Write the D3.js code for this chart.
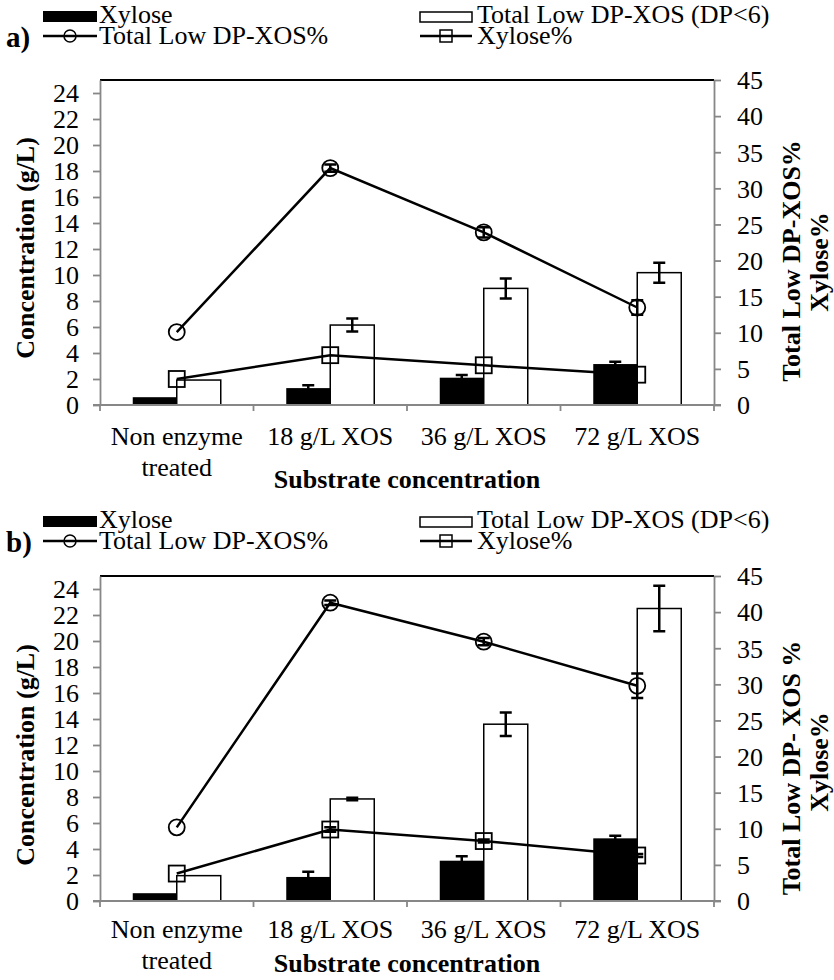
<!DOCTYPE html>
<html>
<head>
<meta charset="utf-8">
<script src="https://cdn.jsdelivr.net/npm/d3@7"></script>
<style>
  body { margin: 0; background: #fff; }
  svg text { font-family: "Liberation Serif", "Times New Roman", serif; fill: #000; }
</style>
</head>
<body>
<svg id="chart" width="834" height="980"></svg>
<script>
// categories + tick labels
var categories = ["Non enzyme treated", "18 g/L XOS", "36 g/L XOS", "72 g/L XOS"];
var categoryLines = [["Non enzyme", "treated"], ["18 g/L XOS"], ["36 g/L XOS"], ["72 g/L XOS"]];
var leftTicks = [0, 2, 4, 6, 8, 10, 12, 14, 16, 18, 20, 22, 24];
var rightTicks = [0, 5, 10, 15, 20, 25, 30, 35, 40, 45];

// panel a) values
var xyloseA = [0.6, 1.3, 2.1, 3.15];
var xyloseErrA = [0, 0.22, 0.2, 0.18];
var xosA = [1.92, 6.15, 8.97, 10.18];
var xosErrA = [0, 0.5, 0.77, 0.77];
var xosPctA = [10.1, 32.8, 23.9, 13.5];
var xosPctErrA = [0, 0.5, 0.7, 1.0];
var xylPctA = [3.6, 6.9, 5.5, 4.2];
var xylPctErrA = [0, 0, 0, 0];

// panel b)
var xyloseB = [0.6, 1.85, 3.1, 4.82];
var xyloseErrB = [0, 0.4, 0.35, 0.2];
var xosB = [1.95, 7.85, 13.6, 22.5];
var xosErrB = [0, 0.1, 0.9, 1.75];
var xosPctB = [10.2, 41.3, 35.9, 29.8];
var xosPctErrB = [0, 0.3, 0.5, 1.7];
var xylPctB = [3.8, 9.9, 8.3, 6.3];
var xylPctErrB = [0, 0.3, 0.2, 0.2];

var svg = d3.select("#chart");
var axisGrey = "#878787";

function drawPanel(p) {
    var g = svg.append("g").attr("transform", "translate(0," + p.dy + ")");

    var x = d3.scaleBand().domain(categories).range([100, 714]).padding(0);
    var yL = d3.scaleLinear().domain([0, 25]).range([405, 80]);
    var yR = d3.scaleLinear().domain([0, 45]).range([405, 80]);
    var bw = 44;
    var cx = function (i) { return x(categories[i]) + x.bandwidth() / 2; };

    // top border line
    g.append("line").attr("x1", 100).attr("x2", 714).attr("y1", 80).attr("y2", 80)
        .attr("stroke", "#000").attr("stroke-width", 1.8);

    // bars
    g.selectAll(".xylBar").data(p.xylose).enter().append("rect")
        .attr("x", function (d, i) { return cx(i) - bw; })
        .attr("y", function (d) { return yL(d); })
        .attr("width", bw)
        .attr("height", function (d) { return yL(0) - yL(d); })
        .attr("fill", "#000");
    g.selectAll(".xosBar").data(p.xos).enter().append("rect")
        .attr("x", function (d, i) { return cx(i); })
        .attr("y", function (d) { return yL(d); })
        .attr("width", bw)
        .attr("height", function (d) { return yL(0) - yL(d); })
        .attr("fill", "#fff").attr("stroke", "#000").attr("stroke-width", 1.5);

    // error bars helper
    function errBars(vals, errs, scale, xoff) {
        vals.forEach(function (v, i) {
            if (!errs[i]) return;
            var xx = cx(i) + xoff, y1 = scale(v + errs[i]), y2 = scale(v - errs[i]);
            g.append("path")
                .attr("d", "M" + xx + "," + y1 + "V" + y2 + "M" + (xx - 6) + "," + y1 + "H" + (xx + 6) + "M" + (xx - 6) + "," + y2 + "H" + (xx + 6))
                .attr("stroke", "#000").attr("stroke-width", 2.5).attr("fill", "none");
        });
    }

    // lines
    var line = d3.line().x(function (d, i) { return cx(i); });
    g.append("path").datum(p.xosPct)
        .attr("d", line.y(function (d) { return yR(d); }))
        .attr("fill", "none").attr("stroke", "#000").attr("stroke-width", 2.5);
    g.append("path").datum(p.xylPct)
        .attr("d", line.y(function (d) { return yR(d); }))
        .attr("fill", "none").attr("stroke", "#000").attr("stroke-width", 2.5);

    g.selectAll(".circ").data(p.xosPct).enter().append("circle")
        .attr("cx", function (d, i) { return cx(i); })
        .attr("cy", function (d) { return yR(d); })
        .attr("r", 8).attr("fill", "none").attr("stroke", "#000").attr("stroke-width", 1.8);
    g.selectAll(".sq").data(p.xylPct).enter().append("rect")
        .attr("x", function (d, i) { return cx(i) - 8; })
        .attr("y", function (d) { return yR(d) - 8; })
        .attr("width", 16).attr("height", 16)
        .attr("fill", "none").attr("stroke", "#000").attr("stroke-width", 1.8);

    errBars(p.xylose, p.xyloseErr, yL, -bw / 2);
    errBars(p.xos, p.xosErr, yL, bw / 2);
    errBars(p.xosPct, p.xosPctErr, yR, 0);
    errBars(p.xylPct, p.xylPctErr, yR, 0);

    // axes
    var la = g.append("g").attr("transform", "translate(100,0)")
        .call(d3.axisLeft(yL).tickValues(leftTicks).tickSize(7).tickPadding(14).tickSizeOuter(0));
    var ra = g.append("g").attr("transform", "translate(714,0)")
        .call(d3.axisRight(yR).tickValues(rightTicks).tickSize(7).tickPadding(16).tickSizeOuter(0));
    [la, ra].forEach(function (a) {
        a.select(".domain").attr("stroke", axisGrey).attr("stroke-width", 1.8);
        a.selectAll(".tick line").attr("stroke", axisGrey).attr("stroke-width", 1.8);
        a.selectAll(".tick text").style("font-size", "26px").attr("dy", "0.34em")
            .style("font-family", '"Liberation Serif", "Times New Roman", serif');
    });

    // bottom axis
    g.append("line").attr("x1", 93).attr("x2", 721).attr("y1", 405).attr("y2", 405)
        .attr("stroke", axisGrey).attr("stroke-width", 1.8);
    var bounds = categories.map(function (c) { return x(c); }).concat([x.range()[1]]);
    g.selectAll(".xt").data(bounds).enter().append("line")
        .attr("x1", function (d) { return d; }).attr("x2", function (d) { return d; })
        .attr("y1", 405).attr("y2", 411)
        .attr("stroke", axisGrey).attr("stroke-width", 1.8);

    categoryLines.forEach(function (lines, i) {
        lines.forEach(function (t, j) {
            g.append("text").attr("x", cx(i)).attr("y", 405 + p.labelDy + j * 31)
                .attr("text-anchor", "middle").style("font-size", "26px").text(t);
        });
    });

    g.append("text").attr("x", 407).attr("y", 405 + p.titleDy)
        .attr("text-anchor", "middle").style("font-size", "26px").style("font-weight", "bold")
        .text("Substrate concentration");

    g.append("text").attr("transform", "translate(34," + p.leftTitleY + ") rotate(-90)")
        .attr("text-anchor", "middle").style("font-size", "26px").style("font-weight", "bold")
        .text("Concentration (g/L)");
    g.append("text").attr("transform", "translate(800," + p.rightTitleY + ") rotate(-90)")
        .attr("text-anchor", "middle").style("font-size", "26px").style("font-weight", "bold")
        .text(p.rightTitle);
    g.append("text").attr("transform", "translate(828," + p.rightTitleY2 + ") rotate(-90)")
        .attr("text-anchor", "middle").style("font-size", "26px").style("font-weight", "bold")
        .text("Xylose%");

    // legend
    var lg = svg.append("g").attr("transform", "translate(0," + p.legendDy + ")");
    lg.append("text").attr("x", 6).attr("y", 55).style("font-size", "29px").style("font-weight", "bold").text(p.tag);
    lg.append("rect").attr("x", 43).attr("y", 19).attr("width", 54).attr("height", 11).attr("fill", "#000");
    lg.append("text").attr("x", 99).attr("y", 31).style("font-size", "26px").text("Xylose");
    lg.append("rect").attr("x", 420).attr("y", 20).attr("width", 52).attr("height", 10)
        .attr("fill", "#fff").attr("stroke", "#000").attr("stroke-width", 1.5);
    lg.append("text").attr("x", 477).attr("y", 31).style("font-size", "26px").text("Total Low DP-XOS (DP<6)");
    lg.append("line").attr("x1", 43).attr("x2", 97).attr("y1", 44).attr("y2", 44).attr("stroke", "#000").attr("stroke-width", 2.5);
    lg.append("circle").attr("cx", 70).attr("cy", 44).attr("r", 6).attr("fill", "none").attr("stroke", "#000").attr("stroke-width", 1.5);
    lg.append("text").attr("x", 99).attr("y", 52).style("font-size", "26px").text("Total Low DP-XOS%");
    lg.append("line").attr("x1", 420).attr("x2", 472).attr("y1", 44).attr("y2", 44).attr("stroke", "#000").attr("stroke-width", 2.5);
    lg.append("rect").attr("x", 440).attr("y", 38).attr("width", 12).attr("height", 12).attr("fill", "none").attr("stroke", "#000").attr("stroke-width", 1.5);
    lg.append("text").attr("x", 477).attr("y", 52).style("font-size", "26px").text("Xylose%");
}

drawPanel({
    dy: 0, legendDy: -8, tag: "a)",
    xylose: xyloseA, xyloseErr: xyloseErrA, xos: xosA, xosErr: xosErrA,
    xosPct: xosPctA, xosPctErr: xosPctErrA, xylPct: xylPctA, xylPctErr: xylPctErrA,
    labelDy: 40, titleDy: 83, leftTitleY: 248, rightTitle: "Total Low DP-XOS%",
    rightTitleY: 261, rightTitleY2: 262
});
drawPanel({
    dy: 496, legendDy: 497, tag: "b)",
    xylose: xyloseB, xyloseErr: xyloseErrB, xos: xosB, xosErr: xosErrB,
    xosPct: xosPctB, xosPctErr: xosPctErrB, xylPct: xylPctB, xylPctErr: xylPctErrB,
    labelDy: 37, titleDy: 71, leftTitleY: 259, rightTitle: "Total Low DP- XOS %",
    rightTitleY: 272, rightTitleY2: 266
});
</script>
</body>
</html>
